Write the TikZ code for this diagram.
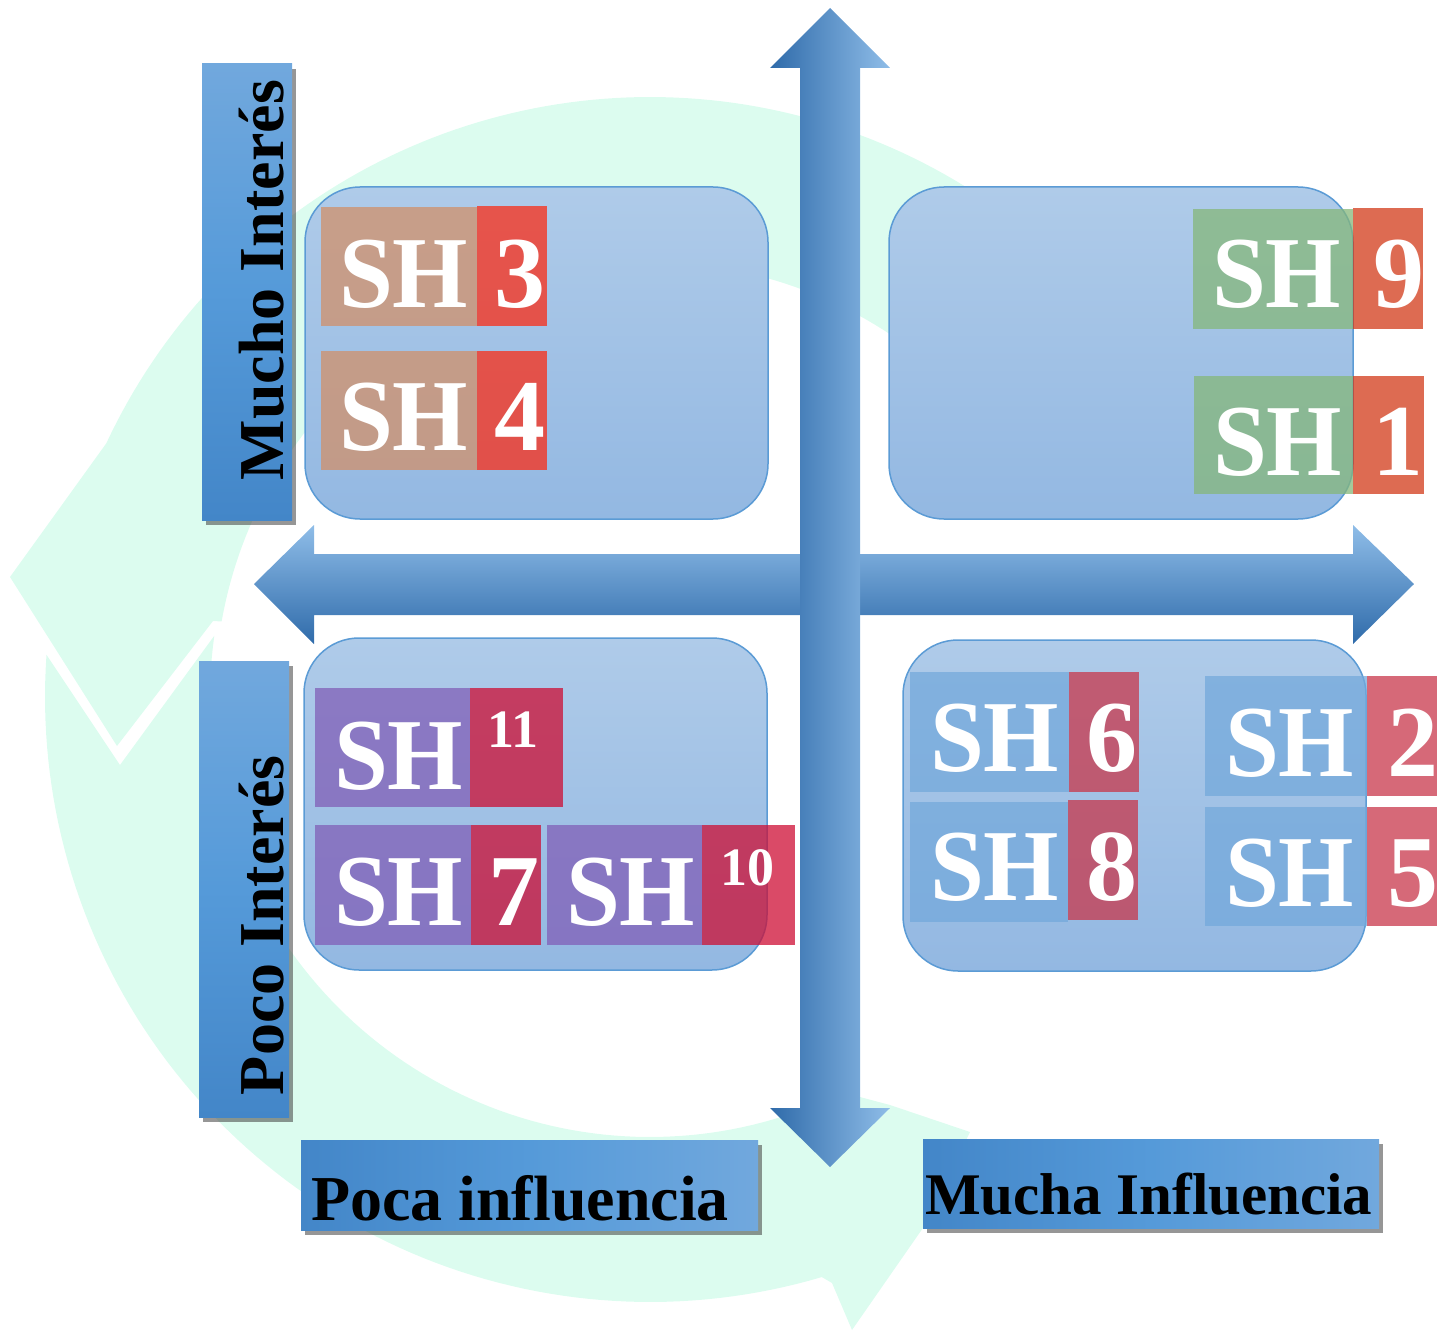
\documentclass[tikz,border=0pt]{standalone}
\usepackage{fontspec}
\setmainfont{Liberation Serif}
\usetikzlibrary{shadows}
\definecolor{mint}{HTML}{DCFCEF}
\definecolor{arrdark}{HTML}{2F6BAA}
\definecolor{arrmid}{HTML}{5B9BD5}
\definecolor{arrlight}{HTML}{8FBDE8}
\definecolor{quadtop}{HTML}{AFCBE9}
\definecolor{quadbot}{HTML}{93B8E2}
\definecolor{quadline}{HTML}{5B9BD5}
\definecolor{lbllight}{HTML}{71A8DD}
\definecolor{lblmid}{HTML}{559AD9}
\definecolor{lbldark}{HTML}{4386C8}
\definecolor{tanC}{HTML}{D1906A}
\definecolor{redTL}{HTML}{FA2D17}
\definecolor{greenC}{HTML}{85B77A}
\definecolor{redTR}{HTML}{D23918}
\definecolor{purpleC}{HTML}{815FB7}
\definecolor{redBL}{HTML}{CD0E34}
\definecolor{blueC}{HTML}{74A9DB}
\definecolor{redBR}{HTML}{C8374B}
\newcommand\SHfont{\fontsize{102}{102}\selectfont\bfseries}
\newcommand\SHsmall{\fontsize{54}{54}\selectfont\bfseries}
\newcommand\LBLfont{\fontsize{64}{64}\selectfont\bfseries}
\begin{document}
\begin{tikzpicture}[x=1pt,y=-1pt,
  box/.style={rectangle, inner sep=0pt, outer sep=0pt, anchor=north west, draw=none},
  quad/.style={box, draw=quadline, line width=1.5pt, rounded corners=55pt,
    top color=quadtop, bottom color=quadbot},
  shpart/.style={box, fill opacity=0.75},
  shtxt/.style={inner sep=0pt, outer sep=0pt, anchor=base west, text=white, font=\SHfont, xscale=0.95},
  shdig/.style={inner sep=0pt, outer sep=0pt, anchor=base west, text=white, font=\SHfont},
  shnum/.style={inner sep=0pt, outer sep=0pt, anchor=base west, text=white, font=\SHsmall},
  lblshadow/.style={drop shadow={shadow xshift=4pt, shadow yshift=-5pt, opacity=0.55, fill=black!75}},
  vlbl/.style={box, top color=lbllight, bottom color=lbldark, middle color=lblmid, lblshadow},
  hlbl/.style={box, left color=lbldark, right color=lbllight, middle color=lblmid, lblshadow},
  lbltxt/.style={inner sep=0pt, outer sep=0pt, anchor=base west, text=black, font=\LBLfont}
]
\useasboundingbox (0,0) rectangle (1437,1332);

% background circular arrows
\fill[mint] plot[domain=305:205, samples=90] ({650+600*cos(\x)},{697+600*sin(\x)})
  -- (10,577) -- (117,746) -- (213,621)
  -- plot[domain=190:305, samples=90] ({650+435*cos(\x)},{697+435*sin(\x)}) -- cycle;
\fill[mint] (120,765)
  -- plot[domain=188:64, samples=90] ({650+440*cos(\x)},{697+440*sin(\x)})
  -- (890,1105) -- (970,1132) -- (925,1225) -- (852,1330) -- (832,1283)
  -- plot[domain=73.5:184, samples=90] ({650+605*cos(\x)},{697+605*sin(\x)}) -- cycle;

% axes
\path[top color=arrlight, middle color=arrmid, bottom color=arrdark]
  (254,584) -- (314,525) -- (314,554) -- (1353,554) -- (1353,525) -- (1414,584)
  -- (1353,644) -- (1353,615) -- (314,615) -- (314,644) -- cycle;
\path[left color=arrdark, middle color=arrmid, right color=arrlight]
  (830,8) -- (890,68) -- (860,68) -- (860,1108) -- (890,1108) -- (830,1167)
  -- (770,1108) -- (800,1108) -- (800,68) -- (770,68) -- cycle;

% quadrants
\node[quad, minimum width=463pt, minimum height=332pt] (qTL) at (305,187) {};
\node[quad, minimum width=464pt, minimum height=332pt] (qTR) at (889,187) {};
\node[quad, minimum width=463pt, minimum height=332pt] (qBL) at (304,638) {};
\node[quad, minimum width=463pt, minimum height=331pt] (qBR) at (903,640) {};

% top left
\node[shpart, fill=tanC, minimum width=156pt, minimum height=119pt] (sh3L) at (321,207) {};
\node[shpart, fill=redTL, minimum width=70pt, minimum height=120pt] (sh3R) at (477,206) {};
\node[shpart, fill=tanC, minimum width=156pt, minimum height=119pt] (sh4L) at (321,351) {};
\node[shpart, fill=redTL, minimum width=70pt, minimum height=119pt] (sh4R) at (477,351) {};
\node[shtxt] (t3a) at (339,307) {SH};
\node[shdig] (t3b) at (494,307) {3};
\node[shtxt] (t4a) at (339,450) {SH};
\node[shdig] (t4b) at (494,450) {4};

% top right
\node[shpart, fill=greenC, minimum width=160pt, minimum height=120pt] (sh9L) at (1193,209) {};
\node[shpart, fill=redTR, minimum width=70pt, minimum height=121pt] (sh9R) at (1353,208) {};
\node[shpart, fill=greenC, minimum width=159pt, minimum height=118pt] (sh1L) at (1194,376) {};
\node[shpart, fill=redTR, minimum width=71pt, minimum height=118pt] (sh1R) at (1353,376) {};
\node[shtxt] (t9a) at (1212,308) {SH};
\node[shdig] (t9b) at (1373,308) {9};
\node[shtxt] (t1a) at (1213,475) {SH};
\node[shdig] (t1b) at (1372,475) {1};

% bottom left
\node[shpart, fill=purpleC, minimum width=155pt, minimum height=119pt] (sh11L) at (315,688) {};
\node[shpart, fill=redBL, minimum width=93pt, minimum height=119pt] (sh11R) at (470,688) {};
\node[shpart, fill=purpleC, minimum width=156pt, minimum height=120pt] (sh7L) at (315,825) {};
\node[shpart, fill=redBL, minimum width=70pt, minimum height=120pt] (sh7R) at (471,825) {};
\node[shpart, fill=purpleC, minimum width=155pt, minimum height=120pt] (sh10L) at (547,825) {};
\node[shpart, fill=redBL, minimum width=93pt, minimum height=120pt] (sh10R) at (702,825) {};
\node[shtxt] (t11a) at (334,789) {SH};
\node[shnum] (t11b) at (487,747) {11};
\node[shtxt] (t7a) at (334,925) {SH};
\node[shdig] (t7b) at (488,925) {7};
\node[shtxt] (t10a) at (566,925) {SH};
\node[shnum] (t10b) at (720,885) {10};

% bottom right
\node[shpart, fill=blueC, minimum width=159pt, minimum height=120pt] (sh6L) at (910,672) {};
\node[shpart, fill=redBR, minimum width=70pt, minimum height=120pt] (sh6R) at (1069,672) {};
\node[shpart, fill=blueC, minimum width=158pt, minimum height=120pt] (sh8L) at (910,802) {};
\node[shpart, fill=redBR, minimum width=70pt, minimum height=120pt] (sh8R) at (1068,800) {};
\node[shpart, fill=blueC, minimum width=162pt, minimum height=120pt] (sh2L) at (1205,676) {};
\node[shpart, fill=redBR, minimum width=70pt, minimum height=120pt] (sh2R) at (1367,676) {};
\node[shpart, fill=blueC, minimum width=162pt, minimum height=119pt] (sh5L) at (1205,807) {};
\node[shpart, fill=redBR, minimum width=70pt, minimum height=119pt] (sh5R) at (1367,807) {};
\node[shtxt] (t6a) at (930,771) {SH};
\node[shdig] (t6b) at (1086,771) {6};
\node[shtxt] (t8a) at (930,900) {SH};
\node[shdig] (t8b) at (1086,900) {8};
\node[shtxt] (t2a) at (1225,776) {SH};
\node[shdig] (t2b) at (1387,776) {2};
\node[shtxt] (t5a) at (1225,906) {SH};
\node[shdig] (t5b) at (1387,906) {5};

% axis labels
\node[vlbl, minimum width=90pt, minimum height=456pt] (bMI) at (202,64) {};
\node[lbltxt, rotate=90] (lMI) at (283,480) {Mucho Interés};
\node[vlbl, minimum width=90pt, minimum height=456pt] (bPI) at (199,661) {};
\node[lbltxt, rotate=90] (lPI) at (283,1095) {Poco Interés};
\node[hlbl, minimum width=457pt, minimum height=90pt] (bPIn) at (301,1140) {};
\node[lbltxt] (lPIn) at (311,1220) {Poca influencia};
\node[hlbl, minimum width=456pt, minimum height=89pt] (bMIn) at (923,1139) {};
\node[lbltxt, font=\fontsize{59}{59}\selectfont\bfseries] (lMIn) at (925,1214) {Mucha Influencia};
\end{tikzpicture}
\end{document}
